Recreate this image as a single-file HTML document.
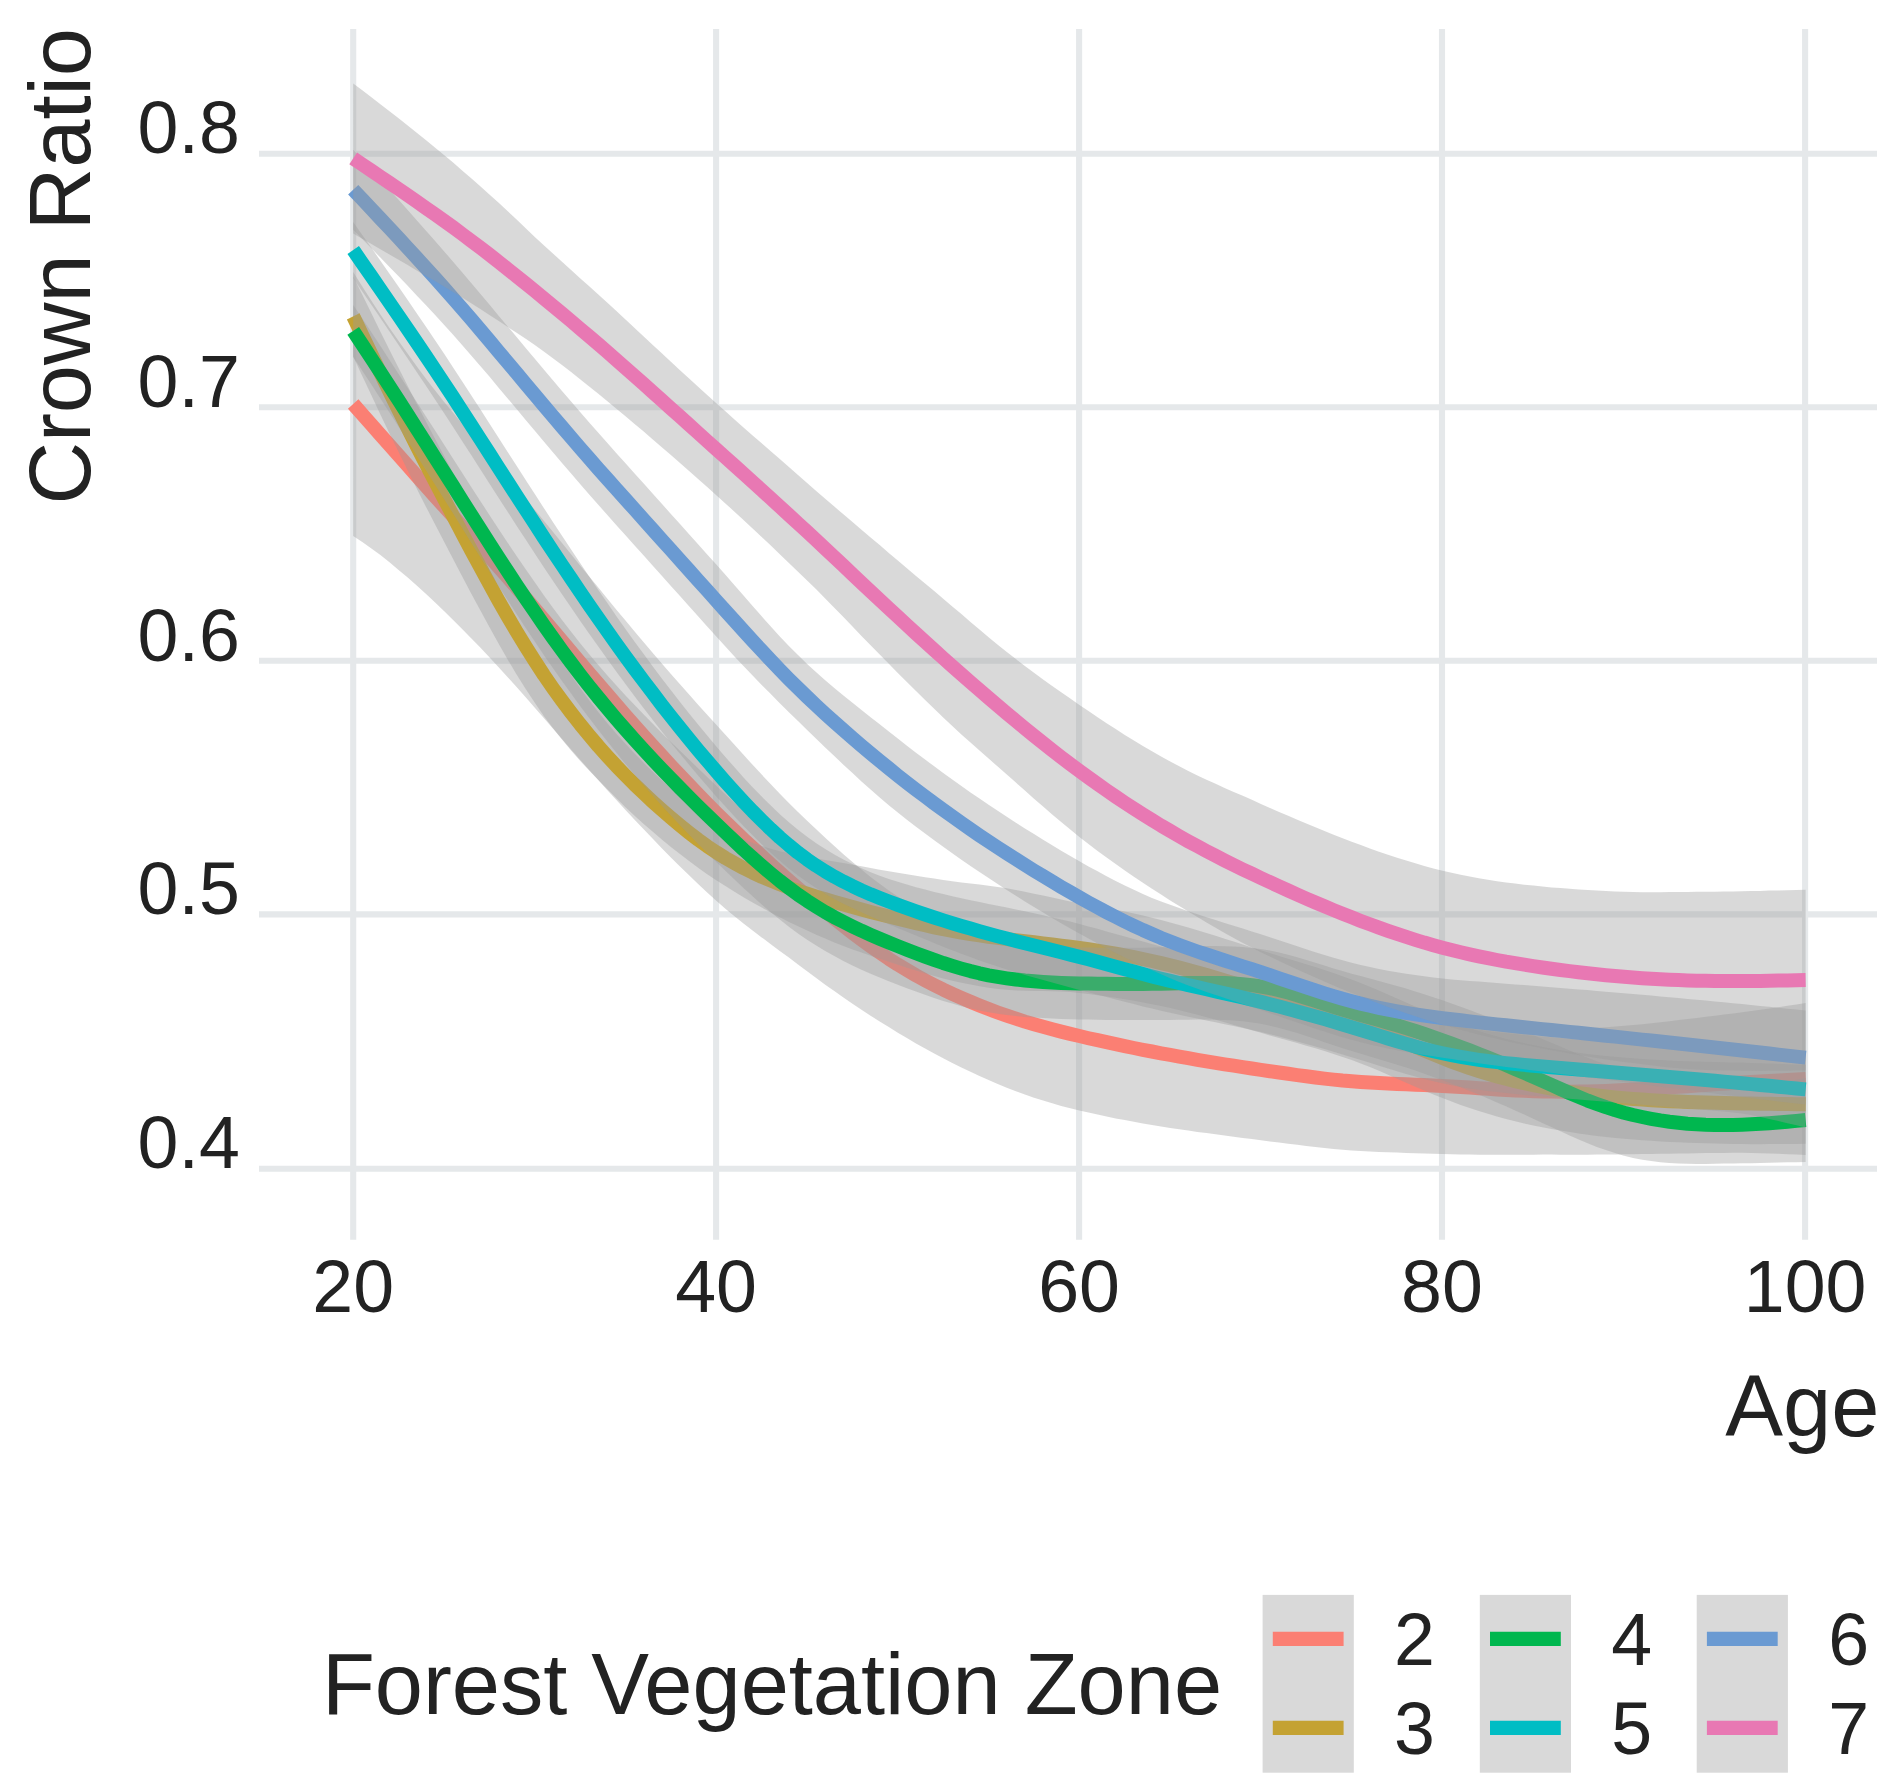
<!DOCTYPE html>
<html lang="en">
<head>
<meta charset="utf-8">
<title>Crown Ratio by Age</title>
<style>html,body{margin:0;padding:0;background:#fff;}svg{display:block;}</style>
</head>
<body>
<svg width="1897" height="1789" viewBox="0 0 1897 1789">
<rect width="1897" height="1789" fill="#ffffff"/>
<g stroke="#e5e8ea" stroke-width="6.1" fill="none">
<line x1="259.0" y1="153.7" x2="1877.0" y2="153.7"/>
<line x1="259.0" y1="407.2" x2="1877.0" y2="407.2"/>
<line x1="259.0" y1="660.8" x2="1877.0" y2="660.8"/>
<line x1="259.0" y1="914.4" x2="1877.0" y2="914.4"/>
<line x1="259.0" y1="1168.7" x2="1877.0" y2="1168.7"/>
<line x1="353.2" y1="29.1" x2="353.2" y2="1239.8"/>
<line x1="716.1" y1="29.1" x2="716.1" y2="1239.8"/>
<line x1="1079.1" y1="29.1" x2="1079.1" y2="1239.8"/>
<line x1="1442.0" y1="29.1" x2="1442.0" y2="1239.8"/>
<line x1="1805.1" y1="29.1" x2="1805.1" y2="1239.8"/>
</g>
<path d="M353.2,272.0 L362.3,286.6 L371.4,300.8 L380.4,314.6 L389.5,327.9 L398.6,341.0 L407.7,353.8 L416.7,366.3 L425.8,378.5 L434.9,390.3 L444.0,401.7 L453.1,412.8 L462.1,423.8 L471.2,434.7 L480.3,445.4 L489.4,456.0 L498.4,466.6 L507.5,477.3 L516.6,488.0 L525.7,498.8 L534.8,509.7 L543.8,520.7 L552.9,531.8 L562.0,543.0 L571.1,554.2 L580.1,565.4 L589.2,576.5 L598.3,587.6 L607.4,598.7 L616.4,609.7 L625.5,620.6 L634.6,631.5 L643.7,642.2 L652.8,652.9 L661.8,663.4 L670.9,673.9 L680.0,684.3 L689.1,694.6 L698.1,704.7 L707.2,714.8 L716.3,724.8 L725.4,734.8 L734.5,744.8 L743.5,754.8 L752.6,764.8 L761.7,774.6 L770.8,784.3 L779.8,793.8 L788.9,803.1 L798.0,812.1 L807.1,820.8 L816.2,829.3 L825.2,837.8 L834.3,846.1 L843.4,854.2 L852.5,862.1 L861.5,869.6 L870.6,876.9 L879.7,883.8 L888.8,890.4 L897.8,896.5 L906.9,902.1 L916.0,907.3 L925.1,912.2 L934.2,916.7 L943.2,920.9 L952.3,924.8 L961.4,928.4 L970.5,931.8 L979.5,935.1 L988.6,938.1 L997.7,941.0 L1006.8,943.7 L1015.9,946.2 L1024.9,948.6 L1034.0,950.9 L1043.1,953.1 L1052.2,955.2 L1061.2,957.3 L1070.3,959.4 L1079.4,961.5 L1088.5,963.7 L1097.6,965.8 L1106.6,967.9 L1115.7,970.0 L1124.8,972.1 L1133.9,974.1 L1142.9,976.1 L1152.0,978.1 L1161.1,980.1 L1170.2,982.0 L1179.3,983.9 L1188.3,985.8 L1197.4,987.6 L1206.5,989.5 L1215.6,991.2 L1224.6,993.0 L1233.7,994.7 L1242.8,996.3 L1251.9,997.9 L1260.9,999.5 L1270.0,1001.0 L1279.1,1002.5 L1288.2,1003.9 L1297.3,1005.3 L1306.3,1006.7 L1315.4,1007.9 L1324.5,1009.1 L1333.6,1010.2 L1342.6,1011.2 L1351.7,1012.1 L1360.8,1012.8 L1369.9,1013.5 L1379.0,1014.1 L1388.0,1014.7 L1397.1,1015.2 L1406.2,1015.8 L1415.3,1016.3 L1424.3,1016.8 L1433.4,1017.4 L1442.5,1018.0 L1451.6,1018.8 L1460.7,1019.7 L1469.7,1020.7 L1478.8,1021.8 L1487.9,1022.9 L1497.0,1024.0 L1506.0,1025.0 L1515.1,1026.0 L1524.2,1026.9 L1533.3,1027.6 L1542.4,1028.2 L1551.4,1028.5 L1560.5,1028.7 L1569.6,1028.6 L1578.7,1028.4 L1587.7,1028.1 L1596.8,1027.7 L1605.9,1027.2 L1615.0,1026.5 L1624.0,1025.8 L1633.1,1025.0 L1642.2,1024.2 L1651.3,1023.2 L1660.4,1022.2 L1669.4,1021.2 L1678.5,1020.1 L1687.6,1019.0 L1696.7,1017.9 L1705.7,1016.8 L1714.8,1015.7 L1723.9,1014.6 L1733.0,1013.5 L1742.1,1012.3 L1751.1,1011.1 L1760.2,1009.8 L1769.3,1008.5 L1778.4,1007.2 L1787.4,1005.8 L1796.5,1004.4 L1805.6,1003.0 L1805.6,1155.0 L1796.5,1154.6 L1787.4,1154.2 L1778.4,1153.8 L1769.3,1153.4 L1760.2,1153.2 L1751.1,1153.0 L1742.1,1152.8 L1733.0,1152.8 L1723.9,1152.9 L1714.8,1153.0 L1705.7,1153.1 L1696.7,1153.2 L1687.6,1153.4 L1678.5,1153.5 L1669.4,1153.7 L1660.4,1153.8 L1651.3,1153.9 L1642.2,1154.1 L1633.1,1154.2 L1624.0,1154.3 L1615.0,1154.4 L1605.9,1154.5 L1596.8,1154.6 L1587.7,1154.7 L1578.7,1154.7 L1569.6,1154.7 L1560.5,1154.7 L1551.4,1154.6 L1542.4,1154.6 L1533.3,1154.7 L1524.2,1154.7 L1515.1,1154.7 L1506.0,1154.7 L1497.0,1154.7 L1487.9,1154.7 L1478.8,1154.7 L1469.7,1154.6 L1460.7,1154.4 L1451.6,1154.2 L1442.5,1154.0 L1433.4,1153.7 L1424.3,1153.4 L1415.3,1153.2 L1406.2,1152.9 L1397.1,1152.6 L1388.0,1152.3 L1379.0,1151.9 L1369.9,1151.5 L1360.8,1151.0 L1351.7,1150.4 L1342.6,1149.7 L1333.6,1148.9 L1324.5,1148.0 L1315.4,1147.0 L1306.3,1146.0 L1297.3,1144.8 L1288.2,1143.7 L1279.1,1142.5 L1270.0,1141.4 L1260.9,1140.2 L1251.9,1139.1 L1242.8,1137.9 L1233.7,1136.7 L1224.6,1135.6 L1215.6,1134.3 L1206.5,1133.1 L1197.4,1131.9 L1188.3,1130.6 L1179.3,1129.2 L1170.2,1127.9 L1161.1,1126.4 L1152.0,1124.9 L1142.9,1123.4 L1133.9,1121.8 L1124.8,1120.1 L1115.7,1118.4 L1106.6,1116.6 L1097.6,1114.6 L1088.5,1112.6 L1079.4,1110.5 L1070.3,1108.3 L1061.2,1105.9 L1052.2,1103.3 L1043.1,1100.6 L1034.0,1097.7 L1024.9,1094.5 L1015.9,1091.2 L1006.8,1087.7 L997.7,1084.0 L988.6,1080.1 L979.5,1076.0 L970.5,1071.8 L961.4,1067.4 L952.3,1062.9 L943.2,1058.3 L934.2,1053.5 L925.1,1048.5 L916.0,1043.4 L906.9,1038.1 L897.8,1032.7 L888.8,1027.1 L879.7,1021.5 L870.6,1015.7 L861.5,1009.7 L852.5,1003.7 L843.4,997.5 L834.3,991.1 L825.2,984.7 L816.2,978.1 L807.1,971.3 L798.0,964.5 L788.9,957.6 L779.8,950.9 L770.8,944.2 L761.7,937.4 L752.6,930.6 L743.5,923.5 L734.5,916.2 L725.4,908.7 L716.3,900.7 L707.2,892.5 L698.1,884.0 L689.1,875.3 L680.0,866.4 L670.9,857.4 L661.8,848.2 L652.8,838.8 L643.7,829.3 L634.6,819.7 L625.5,810.0 L616.4,800.1 L607.4,790.2 L598.3,780.1 L589.2,770.0 L580.1,759.7 L571.1,749.4 L562.0,739.0 L552.9,728.5 L543.8,718.1 L534.8,707.7 L525.7,697.3 L516.6,687.1 L507.5,677.0 L498.4,667.0 L489.4,657.2 L480.3,647.6 L471.2,638.2 L462.1,629.0 L453.1,620.0 L444.0,611.1 L434.9,602.3 L425.8,593.7 L416.7,585.5 L407.7,577.5 L398.6,569.9 L389.5,562.3 L380.4,555.1 L371.4,548.4 L362.3,542.0 L353.2,536.0 Z" fill="#999999" fill-opacity="0.375" stroke="none"/>
<path d="M353.2,404.0 L362.3,414.3 L371.4,424.6 L380.4,434.9 L389.5,445.1 L398.6,455.4 L407.7,465.7 L416.7,475.9 L425.8,486.1 L434.9,496.3 L444.0,506.4 L453.1,516.4 L462.1,526.4 L471.2,536.4 L480.3,546.5 L489.4,556.6 L498.4,566.8 L507.5,577.1 L516.6,587.6 L525.7,598.1 L534.8,608.7 L543.8,619.4 L552.9,630.2 L562.0,641.0 L571.1,651.8 L580.1,662.5 L589.2,673.2 L598.3,683.9 L607.4,694.4 L616.4,704.9 L625.5,715.3 L634.6,725.6 L643.7,735.8 L652.8,745.9 L661.8,755.8 L670.9,765.7 L680.0,775.4 L689.1,784.9 L698.1,794.4 L707.2,803.6 L716.3,812.8 L725.4,821.7 L734.5,830.5 L743.5,839.2 L752.6,847.7 L761.7,856.0 L770.8,864.3 L779.8,872.4 L788.9,880.4 L798.0,888.3 L807.1,896.0 L816.2,903.7 L825.2,911.2 L834.3,918.6 L843.4,925.8 L852.5,932.9 L861.5,939.7 L870.6,946.3 L879.7,952.6 L888.8,958.8 L897.8,964.6 L906.9,970.1 L916.0,975.4 L925.1,980.3 L934.2,985.1 L943.2,989.6 L952.3,993.8 L961.4,997.9 L970.5,1001.8 L979.5,1005.5 L988.6,1009.1 L997.7,1012.5 L1006.8,1015.7 L1015.9,1018.7 L1024.9,1021.6 L1034.0,1024.3 L1043.1,1026.8 L1052.2,1029.3 L1061.2,1031.6 L1070.3,1033.9 L1079.4,1036.0 L1088.5,1038.2 L1097.6,1040.2 L1106.6,1042.2 L1115.7,1044.2 L1124.8,1046.1 L1133.9,1048.0 L1142.9,1049.8 L1152.0,1051.5 L1161.1,1053.3 L1170.2,1054.9 L1179.3,1056.6 L1188.3,1058.2 L1197.4,1059.8 L1206.5,1061.3 L1215.6,1062.8 L1224.6,1064.3 L1233.7,1065.7 L1242.8,1067.1 L1251.9,1068.5 L1260.9,1069.9 L1270.0,1071.2 L1279.1,1072.5 L1288.2,1073.8 L1297.3,1075.1 L1306.3,1076.3 L1315.4,1077.5 L1324.5,1078.6 L1333.6,1079.6 L1342.6,1080.5 L1351.7,1081.2 L1360.8,1081.9 L1369.9,1082.5 L1379.0,1083.0 L1388.0,1083.5 L1397.1,1083.9 L1406.2,1084.3 L1415.3,1084.7 L1424.3,1085.1 L1433.4,1085.5 L1442.5,1086.0 L1451.6,1086.5 L1460.7,1087.1 L1469.7,1087.6 L1478.8,1088.2 L1487.9,1088.8 L1497.0,1089.4 L1506.0,1089.9 L1515.1,1090.4 L1524.2,1090.8 L1533.3,1091.2 L1542.4,1091.4 L1551.4,1091.6 L1560.5,1091.7 L1569.6,1091.7 L1578.7,1091.6 L1587.7,1091.4 L1596.8,1091.2 L1605.9,1090.9 L1615.0,1090.5 L1624.0,1090.1 L1633.1,1089.6 L1642.2,1089.1 L1651.3,1088.6 L1660.4,1088.0 L1669.4,1087.4 L1678.5,1086.8 L1687.6,1086.2 L1696.7,1085.6 L1705.7,1085.0 L1714.8,1084.3 L1723.9,1083.7 L1733.0,1083.1 L1742.1,1082.6 L1751.1,1082.0 L1760.2,1081.5 L1769.3,1081.0 L1778.4,1080.5 L1787.4,1080.0 L1796.5,1079.5 L1805.6,1079.0" fill="none" stroke="#fb7f73" stroke-width="14.0" stroke-linejoin="round" stroke-linecap="butt"/>
<path d="M353.2,276.4 L362.3,294.8 L371.4,313.3 L380.4,331.7 L389.5,350.0 L398.6,368.1 L407.7,386.0 L416.7,403.7 L425.8,421.2 L434.9,438.5 L444.0,455.8 L453.1,473.1 L462.1,490.3 L471.2,507.4 L480.3,524.3 L489.4,541.0 L498.4,557.3 L507.5,573.3 L516.6,589.1 L525.7,604.5 L534.8,619.4 L543.8,633.9 L552.9,648.0 L562.0,661.8 L571.1,675.1 L580.1,687.9 L589.2,700.2 L598.3,712.0 L607.4,723.2 L616.4,733.8 L625.5,743.8 L634.6,753.5 L643.7,762.8 L652.8,771.7 L661.8,780.3 L670.9,788.6 L680.0,796.6 L689.1,804.2 L698.1,811.4 L707.2,818.1 L716.3,824.3 L725.4,829.8 L734.5,834.7 L743.5,839.0 L752.6,842.7 L761.7,845.9 L770.8,848.7 L779.8,851.2 L788.9,853.3 L798.0,855.2 L807.1,856.9 L816.2,858.5 L825.2,860.0 L834.3,861.5 L843.4,863.1 L852.5,864.7 L861.5,866.3 L870.6,868.0 L879.7,869.7 L888.8,871.3 L897.8,872.8 L906.9,874.3 L916.0,875.8 L925.1,877.2 L934.2,878.6 L943.2,879.9 L952.3,881.2 L961.4,882.4 L970.5,883.5 L979.5,884.6 L988.6,885.7 L997.7,886.9 L1006.8,888.3 L1015.9,889.9 L1024.9,891.7 L1034.0,893.7 L1043.1,895.6 L1052.2,897.6 L1061.2,899.6 L1070.3,901.4 L1079.4,903.0 L1088.5,904.5 L1097.6,906.2 L1106.6,907.9 L1115.7,909.7 L1124.8,911.6 L1133.9,913.6 L1142.9,915.6 L1152.0,917.8 L1161.1,920.1 L1170.2,922.5 L1179.3,924.9 L1188.3,927.5 L1197.4,930.2 L1206.5,933.0 L1215.6,935.8 L1224.6,938.7 L1233.7,941.6 L1242.8,944.5 L1251.9,947.4 L1260.9,950.3 L1270.0,953.1 L1279.1,955.9 L1288.2,958.7 L1297.3,961.4 L1306.3,964.2 L1315.4,967.1 L1324.5,970.0 L1333.6,973.0 L1342.6,976.2 L1351.7,979.5 L1360.8,983.0 L1369.9,986.7 L1379.0,990.5 L1388.0,994.5 L1397.1,998.5 L1406.2,1002.6 L1415.3,1006.6 L1424.3,1010.6 L1433.4,1014.4 L1442.5,1018.1 L1451.6,1021.6 L1460.7,1024.9 L1469.7,1028.0 L1478.8,1031.0 L1487.9,1033.7 L1497.0,1036.3 L1506.0,1038.7 L1515.1,1041.0 L1524.2,1043.1 L1533.3,1045.0 L1542.4,1046.8 L1551.4,1048.5 L1560.5,1050.0 L1569.6,1051.4 L1578.7,1052.7 L1587.7,1053.9 L1596.8,1055.0 L1605.9,1056.0 L1615.0,1056.8 L1624.0,1057.6 L1633.1,1058.3 L1642.2,1059.0 L1651.3,1059.5 L1660.4,1060.0 L1669.4,1060.5 L1678.5,1060.9 L1687.6,1061.2 L1696.7,1061.5 L1705.7,1061.8 L1714.8,1062.0 L1723.9,1062.2 L1733.0,1062.4 L1742.1,1062.6 L1751.1,1062.9 L1760.2,1063.2 L1769.3,1063.5 L1778.4,1063.8 L1787.4,1064.2 L1796.5,1064.5 L1805.6,1064.8 L1805.6,1143.8 L1796.5,1143.9 L1787.4,1144.0 L1778.4,1144.1 L1769.3,1144.1 L1760.2,1144.2 L1751.1,1144.2 L1742.1,1144.1 L1733.0,1144.0 L1723.9,1143.8 L1714.8,1143.6 L1705.7,1143.3 L1696.7,1143.0 L1687.6,1142.7 L1678.5,1142.3 L1669.4,1141.9 L1660.4,1141.4 L1651.3,1140.8 L1642.2,1140.2 L1633.1,1139.5 L1624.0,1138.7 L1615.0,1137.9 L1605.9,1136.9 L1596.8,1135.9 L1587.7,1134.7 L1578.7,1133.5 L1569.6,1132.1 L1560.5,1130.6 L1551.4,1129.0 L1542.4,1127.3 L1533.3,1125.4 L1524.2,1123.4 L1515.1,1121.2 L1506.0,1118.9 L1497.0,1116.4 L1487.9,1113.8 L1478.8,1111.0 L1469.7,1108.1 L1460.7,1105.0 L1451.6,1101.6 L1442.5,1098.1 L1433.4,1094.4 L1424.3,1090.6 L1415.3,1086.7 L1406.2,1082.7 L1397.1,1078.7 L1388.0,1074.7 L1379.0,1070.8 L1369.9,1067.1 L1360.8,1063.5 L1351.7,1060.1 L1342.6,1056.9 L1333.6,1053.9 L1324.5,1051.1 L1315.4,1048.3 L1306.3,1045.7 L1297.3,1043.1 L1288.2,1040.5 L1279.1,1038.0 L1270.0,1035.4 L1260.9,1032.8 L1251.9,1030.2 L1242.8,1027.6 L1233.7,1024.9 L1224.6,1022.3 L1215.6,1019.8 L1206.5,1017.3 L1197.4,1014.8 L1188.3,1012.5 L1179.3,1010.2 L1170.2,1008.1 L1161.1,1006.1 L1152.0,1004.2 L1142.9,1002.5 L1133.9,1000.8 L1124.8,999.2 L1115.7,997.8 L1106.6,996.4 L1097.6,995.2 L1088.5,994.0 L1079.4,992.9 L1070.3,992.1 L1061.2,991.6 L1052.2,991.2 L1043.1,991.1 L1034.0,990.9 L1024.9,990.7 L1015.9,990.4 L1006.8,989.8 L997.7,988.9 L988.6,987.7 L979.5,986.2 L970.5,984.6 L961.4,982.8 L952.3,980.7 L943.2,978.5 L934.2,976.0 L925.1,973.4 L916.0,970.6 L906.9,967.7 L897.8,964.8 L888.8,961.8 L879.7,958.7 L870.6,955.7 L861.5,952.6 L852.5,949.4 L843.4,946.0 L834.3,942.4 L825.2,938.6 L816.2,934.7 L807.1,930.6 L798.0,926.3 L788.9,921.9 L779.8,917.3 L770.8,912.5 L761.7,907.6 L752.6,902.5 L743.5,897.2 L734.5,891.8 L725.4,886.1 L716.3,880.3 L707.2,874.2 L698.1,867.8 L689.1,861.1 L680.0,854.1 L670.9,846.9 L661.8,839.5 L652.8,831.8 L643.7,823.9 L634.6,815.7 L625.5,807.2 L616.4,798.3 L607.4,789.3 L598.3,780.1 L589.2,770.6 L580.1,760.8 L571.1,750.5 L562.0,739.6 L552.9,728.1 L543.8,715.9 L534.8,702.8 L525.7,688.9 L516.6,674.4 L507.5,659.2 L498.4,643.3 L489.4,627.0 L480.3,610.3 L471.2,593.4 L462.1,576.2 L453.1,558.9 L444.0,541.5 L434.9,524.0 L425.8,506.4 L416.7,488.6 L407.7,470.5 L398.6,452.1 L389.5,433.4 L380.4,414.4 L371.4,395.2 L362.3,375.9 L353.2,356.4 Z" fill="#999999" fill-opacity="0.375" stroke="none"/>
<path d="M353.2,316.4 L362.3,335.3 L371.4,354.2 L380.4,373.0 L389.5,391.7 L398.6,410.1 L407.7,428.2 L416.7,446.1 L425.8,463.8 L434.9,481.3 L444.0,498.7 L453.1,516.0 L462.1,533.3 L471.2,550.4 L480.3,567.3 L489.4,584.0 L498.4,600.3 L507.5,616.3 L516.6,631.7 L525.7,646.7 L534.8,661.1 L543.8,674.9 L552.9,688.1 L562.0,700.7 L571.1,712.8 L580.1,724.3 L589.2,735.4 L598.3,746.1 L607.4,756.3 L616.4,766.1 L625.5,775.5 L634.6,784.6 L643.7,793.3 L652.8,801.8 L661.8,809.9 L670.9,817.8 L680.0,825.4 L689.1,832.7 L698.1,839.6 L707.2,846.2 L716.3,852.3 L725.4,858.0 L734.5,863.2 L743.5,868.1 L752.6,872.6 L761.7,876.8 L770.8,880.6 L779.8,884.2 L788.9,887.6 L798.0,890.8 L807.1,893.7 L816.2,896.6 L825.2,899.3 L834.3,902.0 L843.4,904.5 L852.5,907.0 L861.5,909.5 L870.6,911.9 L879.7,914.2 L888.8,916.5 L897.8,918.8 L906.9,921.0 L916.0,923.2 L925.1,925.3 L934.2,927.3 L943.2,929.2 L952.3,930.9 L961.4,932.6 L970.5,934.0 L979.5,935.4 L988.6,936.7 L997.7,937.9 L1006.8,939.1 L1015.9,940.2 L1024.9,941.2 L1034.0,942.3 L1043.1,943.4 L1052.2,944.4 L1061.2,945.6 L1070.3,946.7 L1079.4,948.0 L1088.5,949.3 L1097.6,950.7 L1106.6,952.2 L1115.7,953.7 L1124.8,955.4 L1133.9,957.2 L1142.9,959.1 L1152.0,961.0 L1161.1,963.1 L1170.2,965.3 L1179.3,967.6 L1188.3,970.0 L1197.4,972.5 L1206.5,975.1 L1215.6,977.8 L1224.6,980.5 L1233.7,983.3 L1242.8,986.0 L1251.9,988.8 L1260.9,991.5 L1270.0,994.3 L1279.1,996.9 L1288.2,999.6 L1297.3,1002.3 L1306.3,1004.9 L1315.4,1007.7 L1324.5,1010.5 L1333.6,1013.5 L1342.6,1016.5 L1351.7,1019.8 L1360.8,1023.2 L1369.9,1026.9 L1379.0,1030.7 L1388.0,1034.6 L1397.1,1038.6 L1406.2,1042.6 L1415.3,1046.6 L1424.3,1050.6 L1433.4,1054.4 L1442.5,1058.1 L1451.6,1061.6 L1460.7,1064.9 L1469.7,1068.1 L1478.8,1071.0 L1487.9,1073.8 L1497.0,1076.4 L1506.0,1078.8 L1515.1,1081.1 L1524.2,1083.2 L1533.3,1085.2 L1542.4,1087.0 L1551.4,1088.7 L1560.5,1090.3 L1569.6,1091.8 L1578.7,1093.1 L1587.7,1094.3 L1596.8,1095.4 L1605.9,1096.4 L1615.0,1097.4 L1624.0,1098.2 L1633.1,1098.9 L1642.2,1099.6 L1651.3,1100.2 L1660.4,1100.7 L1669.4,1101.2 L1678.5,1101.6 L1687.6,1102.0 L1696.7,1102.3 L1705.7,1102.5 L1714.8,1102.8 L1723.9,1103.0 L1733.0,1103.2 L1742.1,1103.4 L1751.1,1103.5 L1760.2,1103.7 L1769.3,1103.8 L1778.4,1104.0 L1787.4,1104.1 L1796.5,1104.2 L1805.6,1104.3" fill="none" stroke="#c4a233" stroke-width="14.0" stroke-linejoin="round" stroke-linecap="butt"/>
<path d="M353.2,304.9 L362.3,318.6 L371.4,332.3 L380.4,346.1 L389.5,360.0 L398.6,373.9 L407.7,387.9 L416.7,402.0 L425.8,416.2 L434.9,430.3 L444.0,444.5 L453.1,458.7 L462.1,472.8 L471.2,486.9 L480.3,501.0 L489.4,514.9 L498.4,528.7 L507.5,542.4 L516.6,555.9 L525.7,569.2 L534.8,582.3 L543.8,595.2 L552.9,607.8 L562.0,620.0 L571.1,631.8 L580.1,643.2 L589.2,654.3 L598.3,665.0 L607.4,675.5 L616.4,685.6 L625.5,695.5 L634.6,705.1 L643.7,714.5 L652.8,723.8 L661.8,732.9 L670.9,741.9 L680.0,750.7 L689.1,759.5 L698.1,768.3 L707.2,777.0 L716.3,785.7 L725.4,794.3 L734.5,802.8 L743.5,811.1 L752.6,819.3 L761.7,827.2 L770.8,834.8 L779.8,842.2 L788.9,849.2 L798.0,855.8 L807.1,861.9 L816.2,867.7 L825.2,873.1 L834.3,878.2 L843.4,882.9 L852.5,887.4 L861.5,891.7 L870.6,895.8 L879.7,899.8 L888.8,903.6 L897.8,907.4 L906.9,911.1 L916.0,914.8 L925.1,918.3 L934.2,921.8 L943.2,925.1 L952.3,928.2 L961.4,931.1 L970.5,933.7 L979.5,936.1 L988.6,938.2 L997.7,940.1 L1006.8,941.6 L1015.9,943.0 L1024.9,944.1 L1034.0,945.0 L1043.1,945.7 L1052.2,946.3 L1061.2,946.8 L1070.3,947.1 L1079.4,947.4 L1088.5,947.6 L1097.6,947.7 L1106.6,947.8 L1115.7,947.8 L1124.8,947.8 L1133.9,947.8 L1142.9,947.7 L1152.0,947.5 L1161.1,947.3 L1170.2,947.1 L1179.3,946.9 L1188.3,946.6 L1197.4,946.3 L1206.5,946.1 L1215.6,946.1 L1224.6,946.2 L1233.7,946.5 L1242.8,947.0 L1251.9,947.9 L1260.9,949.1 L1270.0,950.6 L1279.1,952.6 L1288.2,954.8 L1297.3,957.3 L1306.3,960.0 L1315.4,962.8 L1324.5,965.6 L1333.6,968.4 L1342.6,971.1 L1351.7,973.7 L1360.8,976.1 L1369.9,978.5 L1379.0,981.0 L1388.0,983.4 L1397.1,986.0 L1406.2,988.6 L1415.3,991.4 L1424.3,994.2 L1433.4,997.2 L1442.5,1000.3 L1451.6,1003.4 L1460.7,1006.7 L1469.7,1010.0 L1478.8,1013.4 L1487.9,1016.8 L1497.0,1020.3 L1506.0,1023.9 L1515.1,1027.6 L1524.2,1031.3 L1533.3,1035.0 L1542.4,1038.9 L1551.4,1042.8 L1560.5,1046.6 L1569.6,1050.5 L1578.7,1054.2 L1587.7,1057.8 L1596.8,1061.2 L1605.9,1064.3 L1615.0,1067.1 L1624.0,1069.7 L1633.1,1072.1 L1642.2,1074.4 L1651.3,1076.5 L1660.4,1078.6 L1669.4,1080.4 L1678.5,1082.1 L1687.6,1083.5 L1696.7,1084.7 L1705.7,1085.7 L1714.8,1086.3 L1723.9,1086.6 L1733.0,1086.5 L1742.1,1086.1 L1751.1,1085.5 L1760.2,1084.7 L1769.3,1083.6 L1778.4,1082.4 L1787.4,1081.1 L1796.5,1079.6 L1805.6,1078.0 L1805.6,1162.0 L1796.5,1162.2 L1787.4,1162.3 L1778.4,1162.5 L1769.3,1162.7 L1760.2,1162.9 L1751.1,1163.2 L1742.1,1163.3 L1733.0,1163.5 L1723.9,1163.6 L1714.8,1163.8 L1705.7,1163.9 L1696.7,1163.9 L1687.6,1163.8 L1678.5,1163.5 L1669.4,1163.0 L1660.4,1162.2 L1651.3,1161.1 L1642.2,1159.7 L1633.1,1157.9 L1624.0,1155.7 L1615.0,1153.1 L1605.9,1150.1 L1596.8,1146.9 L1587.7,1143.3 L1578.7,1139.5 L1569.6,1135.5 L1560.5,1131.3 L1551.4,1127.1 L1542.4,1122.9 L1533.3,1118.7 L1524.2,1114.5 L1515.1,1110.4 L1506.0,1106.3 L1497.0,1102.4 L1487.9,1098.5 L1478.8,1094.6 L1469.7,1090.9 L1460.7,1087.2 L1451.6,1083.7 L1442.5,1080.3 L1433.4,1077.0 L1424.3,1073.8 L1415.3,1070.6 L1406.2,1067.6 L1397.1,1064.7 L1388.0,1061.9 L1379.0,1059.2 L1369.9,1056.5 L1360.8,1053.8 L1351.7,1051.0 L1342.6,1048.2 L1333.6,1045.2 L1324.5,1042.2 L1315.4,1039.1 L1306.3,1036.0 L1297.3,1033.1 L1288.2,1030.4 L1279.1,1027.9 L1270.0,1025.7 L1260.9,1023.8 L1251.9,1022.4 L1242.8,1021.3 L1233.7,1020.6 L1224.6,1020.1 L1215.6,1019.8 L1206.5,1019.6 L1197.4,1019.6 L1188.3,1019.7 L1179.3,1019.8 L1170.2,1019.9 L1161.1,1020.0 L1152.0,1020.1 L1142.9,1020.1 L1133.9,1020.1 L1124.8,1020.0 L1115.7,1020.0 L1106.6,1019.9 L1097.6,1019.8 L1088.5,1019.6 L1079.4,1019.4 L1070.3,1019.2 L1061.2,1018.9 L1052.2,1018.6 L1043.1,1018.1 L1034.0,1017.6 L1024.9,1016.9 L1015.9,1016.1 L1006.8,1015.0 L997.7,1013.8 L988.6,1012.3 L979.5,1010.5 L970.5,1008.5 L961.4,1006.2 L952.3,1003.6 L943.2,1000.9 L934.2,997.9 L925.1,994.8 L916.0,991.6 L906.9,988.2 L897.8,984.7 L888.8,981.2 L879.7,977.5 L870.6,973.7 L861.5,969.7 L852.5,965.4 L843.4,960.9 L834.3,956.1 L825.2,951.0 L816.2,945.6 L807.1,939.7 L798.0,933.4 L788.9,926.7 L779.8,919.6 L770.8,912.2 L761.7,904.4 L752.6,896.3 L743.5,888.0 L734.5,879.4 L725.4,870.8 L716.3,861.9 L707.2,853.0 L698.1,844.0 L689.1,834.7 L680.0,825.3 L670.9,815.6 L661.8,805.7 L652.8,795.6 L643.7,785.3 L634.6,774.7 L625.5,763.9 L616.4,752.8 L607.4,741.5 L598.3,730.0 L589.2,718.1 L580.1,706.0 L571.1,693.6 L562.0,681.0 L552.9,668.1 L543.8,654.9 L534.8,641.5 L525.7,627.9 L516.6,614.1 L507.5,600.1 L498.4,585.9 L489.4,571.6 L480.3,557.1 L471.2,542.7 L462.1,528.1 L453.1,513.5 L444.0,499.0 L434.9,484.4 L425.8,469.9 L416.7,455.4 L407.7,441.0 L398.6,426.8 L389.5,412.6 L380.4,398.5 L371.4,384.6 L362.3,370.7 L353.2,356.9 Z" fill="#999999" fill-opacity="0.375" stroke="none"/>
<path d="M353.2,330.9 L362.3,344.7 L371.4,358.5 L380.4,372.3 L389.5,386.3 L398.6,400.3 L407.7,414.5 L416.7,428.7 L425.8,443.0 L434.9,457.4 L444.0,471.7 L453.1,486.1 L462.1,500.5 L471.2,514.8 L480.3,529.1 L489.4,543.2 L498.4,557.3 L507.5,571.2 L516.6,585.0 L525.7,598.6 L534.8,611.9 L543.8,625.1 L552.9,637.9 L562.0,650.5 L571.1,662.7 L580.1,674.6 L589.2,686.2 L598.3,697.5 L607.4,708.5 L616.4,719.2 L625.5,729.7 L634.6,739.9 L643.7,749.9 L652.8,759.7 L661.8,769.3 L670.9,778.7 L680.0,788.0 L689.1,797.1 L698.1,806.1 L707.2,815.0 L716.3,823.8 L725.4,832.5 L734.5,841.1 L743.5,849.6 L752.6,857.8 L761.7,865.8 L770.8,873.5 L779.8,880.9 L788.9,887.9 L798.0,894.6 L807.1,900.8 L816.2,906.6 L825.2,912.1 L834.3,917.2 L843.4,921.9 L852.5,926.4 L861.5,930.7 L870.6,934.8 L879.7,938.7 L888.8,942.4 L897.8,946.1 L906.9,949.7 L916.0,953.2 L925.1,956.6 L934.2,959.9 L943.2,963.0 L952.3,965.9 L961.4,968.6 L970.5,971.1 L979.5,973.3 L988.6,975.3 L997.7,976.9 L1006.8,978.3 L1015.9,979.5 L1024.9,980.5 L1034.0,981.3 L1043.1,981.9 L1052.2,982.5 L1061.2,982.9 L1070.3,983.2 L1079.4,983.4 L1088.5,983.6 L1097.6,983.7 L1106.6,983.8 L1115.7,983.9 L1124.8,983.9 L1133.9,983.9 L1142.9,983.9 L1152.0,983.8 L1161.1,983.7 L1170.2,983.5 L1179.3,983.3 L1188.3,983.1 L1197.4,983.0 L1206.5,982.9 L1215.6,982.9 L1224.6,983.1 L1233.7,983.5 L1242.8,984.2 L1251.9,985.1 L1260.9,986.5 L1270.0,988.1 L1279.1,990.2 L1288.2,992.6 L1297.3,995.2 L1306.3,998.0 L1315.4,1000.9 L1324.5,1003.9 L1333.6,1006.8 L1342.6,1009.6 L1351.7,1012.3 L1360.8,1015.0 L1369.9,1017.5 L1379.0,1020.1 L1388.0,1022.7 L1397.1,1025.3 L1406.2,1028.1 L1415.3,1031.0 L1424.3,1034.0 L1433.4,1037.1 L1442.5,1040.3 L1451.6,1043.6 L1460.7,1047.0 L1469.7,1050.4 L1478.8,1054.0 L1487.9,1057.6 L1497.0,1061.3 L1506.0,1065.1 L1515.1,1069.0 L1524.2,1072.9 L1533.3,1076.9 L1542.4,1080.9 L1551.4,1084.9 L1560.5,1089.0 L1569.6,1093.0 L1578.7,1096.9 L1587.7,1100.6 L1596.8,1104.0 L1605.9,1107.2 L1615.0,1110.1 L1624.0,1112.7 L1633.1,1115.0 L1642.2,1117.0 L1651.3,1118.8 L1660.4,1120.4 L1669.4,1121.7 L1678.5,1122.8 L1687.6,1123.7 L1696.7,1124.3 L1705.7,1124.8 L1714.8,1125.0 L1723.9,1125.1 L1733.0,1125.0 L1742.1,1124.7 L1751.1,1124.3 L1760.2,1123.8 L1769.3,1123.2 L1778.4,1122.5 L1787.4,1121.7 L1796.5,1120.9 L1805.6,1120.0" fill="none" stroke="#00b74f" stroke-width="14.0" stroke-linejoin="round" stroke-linecap="butt"/>
<path d="M353.2,222.1 L362.3,235.0 L371.4,247.8 L380.4,260.7 L389.5,273.7 L398.6,286.8 L407.7,299.9 L416.7,313.2 L425.8,326.5 L434.9,340.0 L444.0,353.6 L453.1,367.4 L462.1,381.2 L471.2,395.2 L480.3,409.3 L489.4,423.4 L498.4,437.5 L507.5,451.7 L516.6,465.8 L525.7,479.9 L534.8,493.9 L543.8,507.9 L552.9,521.9 L562.0,535.7 L571.1,549.4 L580.1,563.1 L589.2,576.6 L598.3,589.9 L607.4,603.1 L616.4,616.2 L625.5,629.0 L634.6,641.7 L643.7,654.1 L652.8,666.4 L661.8,678.5 L670.9,690.3 L680.0,702.0 L689.1,713.4 L698.1,724.6 L707.2,735.6 L716.3,746.4 L725.4,757.0 L734.5,767.3 L743.5,777.4 L752.6,787.2 L761.7,796.6 L770.8,805.6 L779.8,814.2 L788.9,822.2 L798.0,829.8 L807.1,836.8 L816.2,843.2 L825.2,849.1 L834.3,854.5 L843.4,859.5 L852.5,864.1 L861.5,868.3 L870.6,872.2 L879.7,875.7 L888.8,878.9 L897.8,881.8 L906.9,884.6 L916.0,887.2 L925.1,889.6 L934.2,891.9 L943.2,894.1 L952.3,896.2 L961.4,898.2 L970.5,900.2 L979.5,902.0 L988.6,903.9 L997.7,905.7 L1006.8,907.5 L1015.9,909.4 L1024.9,911.3 L1034.0,913.3 L1043.1,915.3 L1052.2,917.4 L1061.2,919.5 L1070.3,921.6 L1079.4,923.9 L1088.5,926.4 L1097.6,928.8 L1106.6,931.4 L1115.7,933.9 L1124.8,936.5 L1133.9,939.1 L1142.9,941.6 L1152.0,944.1 L1161.1,946.6 L1170.2,949.0 L1179.3,951.3 L1188.3,953.6 L1197.4,955.9 L1206.5,958.1 L1215.6,960.3 L1224.6,962.6 L1233.7,964.8 L1242.8,967.0 L1251.9,969.3 L1260.9,971.6 L1270.0,974.0 L1279.1,976.4 L1288.2,978.9 L1297.3,981.4 L1306.3,983.9 L1315.4,986.5 L1324.5,989.1 L1333.6,991.8 L1342.6,994.5 L1351.7,997.2 L1360.8,1000.0 L1369.9,1002.8 L1379.0,1005.7 L1388.0,1008.5 L1397.1,1011.2 L1406.2,1013.9 L1415.3,1016.5 L1424.3,1018.9 L1433.4,1021.2 L1442.5,1023.3 L1451.6,1025.2 L1460.7,1026.9 L1469.7,1028.4 L1478.8,1029.8 L1487.9,1031.0 L1497.0,1032.1 L1506.0,1033.1 L1515.1,1034.0 L1524.2,1034.9 L1533.3,1035.7 L1542.4,1036.5 L1551.4,1037.3 L1560.5,1038.0 L1569.6,1038.8 L1578.7,1039.5 L1587.7,1040.3 L1596.8,1041.0 L1605.9,1041.8 L1615.0,1042.5 L1624.0,1043.2 L1633.1,1043.9 L1642.2,1044.7 L1651.3,1045.4 L1660.4,1046.2 L1669.4,1046.9 L1678.5,1047.7 L1687.6,1048.4 L1696.7,1049.2 L1705.7,1050.0 L1714.8,1050.8 L1723.9,1051.6 L1733.0,1052.4 L1742.1,1052.9 L1751.1,1053.1 L1760.2,1053.0 L1769.3,1052.8 L1778.4,1052.4 L1787.4,1052.0 L1796.5,1051.7 L1805.6,1051.4 L1805.6,1127.4 L1796.5,1125.3 L1787.4,1123.2 L1778.4,1121.0 L1769.3,1118.9 L1760.2,1116.9 L1751.1,1115.1 L1742.1,1113.6 L1733.0,1112.4 L1723.9,1111.6 L1714.8,1110.8 L1705.7,1110.0 L1696.7,1109.2 L1687.6,1108.4 L1678.5,1107.7 L1669.4,1106.9 L1660.4,1106.2 L1651.3,1105.4 L1642.2,1104.7 L1633.1,1103.9 L1624.0,1103.2 L1615.0,1102.5 L1605.9,1101.8 L1596.8,1101.0 L1587.7,1100.3 L1578.7,1099.5 L1569.6,1098.8 L1560.5,1098.0 L1551.4,1097.3 L1542.4,1096.5 L1533.3,1095.7 L1524.2,1094.9 L1515.1,1094.0 L1506.0,1093.1 L1497.0,1092.1 L1487.9,1091.0 L1478.8,1089.8 L1469.7,1088.4 L1460.7,1086.9 L1451.6,1085.2 L1442.5,1083.3 L1433.4,1081.2 L1424.3,1078.9 L1415.3,1076.5 L1406.2,1073.9 L1397.1,1071.2 L1388.0,1068.5 L1379.0,1065.7 L1369.9,1062.8 L1360.8,1060.0 L1351.7,1057.2 L1342.6,1054.5 L1333.6,1051.8 L1324.5,1049.1 L1315.4,1046.5 L1306.3,1043.9 L1297.3,1041.4 L1288.2,1038.9 L1279.1,1036.6 L1270.0,1034.3 L1260.9,1032.1 L1251.9,1030.1 L1242.8,1028.0 L1233.7,1026.1 L1224.6,1024.2 L1215.6,1022.3 L1206.5,1020.4 L1197.4,1018.6 L1188.3,1016.7 L1179.3,1014.8 L1170.2,1012.8 L1161.1,1010.7 L1152.0,1008.6 L1142.9,1006.4 L1133.9,1004.1 L1124.8,1001.8 L1115.7,999.5 L1106.6,997.1 L1097.6,994.7 L1088.5,992.3 L1079.4,989.9 L1070.3,987.5 L1061.2,985.1 L1052.2,982.6 L1043.1,980.1 L1034.0,977.6 L1024.9,975.0 L1015.9,972.3 L1006.8,969.6 L997.7,966.6 L988.6,963.6 L979.5,960.4 L970.5,957.1 L961.4,953.7 L952.3,950.2 L943.2,946.7 L934.2,943.0 L925.1,939.3 L916.0,935.6 L906.9,931.8 L897.8,928.0 L888.8,924.2 L879.7,920.3 L870.6,916.4 L861.5,912.3 L852.5,908.1 L843.4,903.7 L834.3,898.9 L825.2,893.7 L816.2,888.1 L807.1,882.1 L798.0,875.5 L788.9,868.4 L779.8,860.8 L770.8,852.7 L761.7,844.2 L752.6,835.3 L743.5,826.1 L734.5,816.5 L725.4,806.6 L716.3,796.4 L707.2,786.0 L698.1,775.5 L689.1,764.7 L680.0,753.8 L670.9,742.7 L661.8,731.4 L652.8,719.9 L643.7,708.2 L634.6,696.2 L625.5,684.1 L616.4,671.8 L607.4,659.3 L598.3,646.6 L589.2,633.8 L580.1,620.8 L571.1,607.6 L562.0,594.3 L552.9,580.8 L543.8,567.2 L534.8,553.5 L525.7,539.6 L516.6,525.7 L507.5,511.6 L498.4,497.5 L489.4,483.4 L480.3,469.2 L471.2,455.1 L462.1,441.0 L453.1,427.0 L444.0,413.0 L434.9,399.2 L425.8,385.5 L416.7,371.9 L407.7,358.4 L398.6,344.9 L389.5,331.5 L380.4,318.1 L371.4,304.8 L362.3,291.5 L353.2,278.1 Z" fill="#999999" fill-opacity="0.375" stroke="none"/>
<path d="M353.2,250.1 L362.3,263.2 L371.4,276.3 L380.4,289.4 L389.5,302.6 L398.6,315.9 L407.7,329.2 L416.7,342.5 L425.8,356.0 L434.9,369.6 L444.0,383.3 L453.1,397.2 L462.1,411.1 L471.2,425.1 L480.3,439.2 L489.4,453.4 L498.4,467.5 L507.5,481.6 L516.6,495.7 L525.7,509.8 L534.8,523.7 L543.8,537.6 L552.9,551.3 L562.0,565.0 L571.1,578.5 L580.1,591.9 L589.2,605.2 L598.3,618.3 L607.4,631.2 L616.4,644.0 L625.5,656.6 L634.6,669.0 L643.7,681.1 L652.8,693.1 L661.8,704.9 L670.9,716.5 L680.0,727.9 L689.1,739.1 L698.1,750.1 L707.2,760.8 L716.3,771.4 L725.4,781.8 L734.5,791.9 L743.5,801.7 L752.6,811.3 L761.7,820.4 L770.8,829.2 L779.8,837.5 L788.9,845.3 L798.0,852.7 L807.1,859.4 L816.2,865.7 L825.2,871.4 L834.3,876.7 L843.4,881.6 L852.5,886.1 L861.5,890.3 L870.6,894.3 L879.7,898.0 L888.8,901.5 L897.8,904.9 L906.9,908.2 L916.0,911.4 L925.1,914.5 L934.2,917.5 L943.2,920.4 L952.3,923.2 L961.4,926.0 L970.5,928.6 L979.5,931.2 L988.6,933.7 L997.7,936.2 L1006.8,938.5 L1015.9,940.9 L1024.9,943.2 L1034.0,945.5 L1043.1,947.7 L1052.2,950.0 L1061.2,952.3 L1070.3,954.6 L1079.4,956.9 L1088.5,959.3 L1097.6,961.8 L1106.6,964.2 L1115.7,966.7 L1124.8,969.2 L1133.9,971.6 L1142.9,974.0 L1152.0,976.4 L1161.1,978.7 L1170.2,980.9 L1179.3,983.0 L1188.3,985.2 L1197.4,987.2 L1206.5,989.3 L1215.6,991.3 L1224.6,993.4 L1233.7,995.4 L1242.8,997.5 L1251.9,999.7 L1260.9,1001.9 L1270.0,1004.2 L1279.1,1006.5 L1288.2,1008.9 L1297.3,1011.4 L1306.3,1013.9 L1315.4,1016.5 L1324.5,1019.1 L1333.6,1021.8 L1342.6,1024.5 L1351.7,1027.2 L1360.8,1030.0 L1369.9,1032.8 L1379.0,1035.7 L1388.0,1038.5 L1397.1,1041.2 L1406.2,1043.9 L1415.3,1046.5 L1424.3,1048.9 L1433.4,1051.2 L1442.5,1053.3 L1451.6,1055.2 L1460.7,1056.9 L1469.7,1058.4 L1478.8,1059.8 L1487.9,1061.0 L1497.0,1062.1 L1506.0,1063.1 L1515.1,1064.0 L1524.2,1064.9 L1533.3,1065.7 L1542.4,1066.5 L1551.4,1067.3 L1560.5,1068.0 L1569.6,1068.8 L1578.7,1069.5 L1587.7,1070.3 L1596.8,1071.0 L1605.9,1071.8 L1615.0,1072.5 L1624.0,1073.2 L1633.1,1073.9 L1642.2,1074.7 L1651.3,1075.4 L1660.4,1076.2 L1669.4,1076.9 L1678.5,1077.7 L1687.6,1078.4 L1696.7,1079.2 L1705.7,1080.0 L1714.8,1080.8 L1723.9,1081.6 L1733.0,1082.4 L1742.1,1083.2 L1751.1,1084.1 L1760.2,1085.0 L1769.3,1085.8 L1778.4,1086.7 L1787.4,1087.6 L1796.5,1088.5 L1805.6,1089.4" fill="none" stroke="#00bdc4" stroke-width="14.0" stroke-linejoin="round" stroke-linecap="butt"/>
<path d="M353.2,149.7 L362.3,159.7 L371.4,169.7 L380.4,179.7 L389.5,189.7 L398.6,199.8 L407.7,210.0 L416.7,220.2 L425.8,230.4 L434.9,240.7 L444.0,251.2 L453.1,261.7 L462.1,272.3 L471.2,283.0 L480.3,293.7 L489.4,304.5 L498.4,315.4 L507.5,326.2 L516.6,337.0 L525.7,347.9 L534.8,358.7 L543.8,369.5 L552.9,380.2 L562.0,390.9 L571.1,401.5 L580.1,412.0 L589.2,422.4 L598.3,432.8 L607.4,443.0 L616.4,453.2 L625.5,463.3 L634.6,473.4 L643.7,483.6 L652.8,493.7 L661.8,503.8 L670.9,513.9 L680.0,524.1 L689.1,534.2 L698.1,544.3 L707.2,554.4 L716.3,564.6 L725.4,574.8 L734.5,585.2 L743.5,595.6 L752.6,606.0 L761.7,616.3 L770.8,626.5 L779.8,636.4 L788.9,645.9 L798.0,655.1 L807.1,663.9 L816.2,672.2 L825.2,680.2 L834.3,687.9 L843.4,695.5 L852.5,702.8 L861.5,710.1 L870.6,717.2 L879.7,724.3 L888.8,731.4 L897.8,738.6 L906.9,745.7 L916.0,752.7 L925.1,759.6 L934.2,766.3 L943.2,773.0 L952.3,779.6 L961.4,786.0 L970.5,792.4 L979.5,798.6 L988.6,804.8 L997.7,810.8 L1006.8,816.8 L1015.9,822.7 L1024.9,828.4 L1034.0,834.1 L1043.1,839.8 L1052.2,845.3 L1061.2,850.7 L1070.3,856.0 L1079.4,861.3 L1088.5,866.4 L1097.6,871.3 L1106.6,876.2 L1115.7,880.9 L1124.8,885.4 L1133.9,889.8 L1142.9,894.0 L1152.0,897.9 L1161.1,901.4 L1170.2,904.8 L1179.3,908.0 L1188.3,911.2 L1197.4,914.2 L1206.5,917.2 L1215.6,920.1 L1224.6,923.0 L1233.7,925.8 L1242.8,928.6 L1251.9,931.4 L1260.9,934.3 L1270.0,937.3 L1279.1,940.3 L1288.2,943.3 L1297.3,946.3 L1306.3,949.3 L1315.4,952.2 L1324.5,955.0 L1333.6,957.7 L1342.6,960.3 L1351.7,962.8 L1360.8,965.0 L1369.9,967.1 L1379.0,969.0 L1388.0,970.8 L1397.1,972.3 L1406.2,973.8 L1415.3,975.1 L1424.3,976.3 L1433.4,977.4 L1442.5,978.5 L1451.6,979.4 L1460.7,980.2 L1469.7,980.9 L1478.8,981.6 L1487.9,982.3 L1497.0,983.0 L1506.0,983.7 L1515.1,984.4 L1524.2,985.1 L1533.3,985.8 L1542.4,986.5 L1551.4,987.2 L1560.5,987.9 L1569.6,988.7 L1578.7,989.4 L1587.7,990.1 L1596.8,990.9 L1605.9,991.7 L1615.0,992.4 L1624.0,993.2 L1633.1,994.0 L1642.2,994.8 L1651.3,995.6 L1660.4,996.4 L1669.4,997.2 L1678.5,998.0 L1687.6,998.9 L1696.7,999.7 L1705.7,1000.6 L1714.8,1001.4 L1723.9,1002.3 L1733.0,1003.2 L1742.1,1004.1 L1751.1,1005.0 L1760.2,1005.9 L1769.3,1006.8 L1778.4,1007.8 L1787.4,1008.7 L1796.5,1009.6 L1805.6,1010.6 L1805.6,1104.6 L1796.5,1103.5 L1787.4,1102.5 L1778.4,1101.4 L1769.3,1100.3 L1760.2,1099.2 L1751.1,1098.1 L1742.1,1096.9 L1733.0,1095.8 L1723.9,1094.7 L1714.8,1093.6 L1705.7,1092.4 L1696.7,1091.3 L1687.6,1090.1 L1678.5,1089.0 L1669.4,1087.8 L1660.4,1086.7 L1651.3,1085.5 L1642.2,1084.3 L1633.1,1083.2 L1624.0,1082.0 L1615.0,1080.8 L1605.9,1079.7 L1596.8,1078.5 L1587.7,1077.4 L1578.7,1076.2 L1569.6,1075.0 L1560.5,1073.9 L1551.4,1072.7 L1542.4,1071.6 L1533.3,1070.4 L1524.2,1069.3 L1515.1,1068.1 L1506.0,1067.0 L1497.0,1065.8 L1487.9,1064.5 L1478.8,1063.2 L1469.7,1061.8 L1460.7,1060.4 L1451.6,1059.1 L1442.5,1057.7 L1433.4,1056.3 L1424.3,1054.9 L1415.3,1053.5 L1406.2,1051.9 L1397.1,1050.3 L1388.0,1048.5 L1379.0,1046.6 L1369.9,1044.5 L1360.8,1042.2 L1351.7,1039.8 L1342.6,1037.2 L1333.6,1034.5 L1324.5,1031.6 L1315.4,1028.7 L1306.3,1025.6 L1297.3,1022.5 L1288.2,1019.4 L1279.1,1016.3 L1270.0,1013.2 L1260.9,1010.1 L1251.9,1007.0 L1242.8,1004.0 L1233.7,1001.0 L1224.6,998.0 L1215.6,995.0 L1206.5,991.9 L1197.4,988.7 L1188.3,985.4 L1179.3,981.9 L1170.2,978.2 L1161.1,974.3 L1152.0,970.2 L1142.9,966.1 L1133.9,961.8 L1124.8,957.5 L1115.7,952.9 L1106.6,948.3 L1097.6,943.5 L1088.5,938.6 L1079.4,933.6 L1070.3,928.4 L1061.2,923.2 L1052.2,917.9 L1043.1,912.5 L1034.0,907.0 L1024.9,901.4 L1015.9,895.7 L1006.8,889.9 L997.7,884.1 L988.6,878.1 L979.5,872.1 L970.5,865.9 L961.4,859.7 L952.3,853.3 L943.2,846.8 L934.2,840.2 L925.1,833.5 L916.0,826.7 L906.9,819.7 L897.8,812.5 L888.8,805.2 L879.7,797.5 L870.6,789.6 L861.5,781.4 L852.5,773.1 L843.4,764.7 L834.3,756.1 L825.2,747.5 L816.2,738.8 L807.1,730.0 L798.0,721.1 L788.9,712.2 L779.8,703.2 L770.8,694.1 L761.7,684.9 L752.6,675.6 L743.5,666.1 L734.5,656.4 L725.4,646.6 L716.3,636.6 L707.2,626.4 L698.1,616.3 L689.1,606.2 L680.0,596.1 L670.9,585.9 L661.8,575.8 L652.8,565.7 L643.7,555.6 L634.6,545.4 L625.5,535.3 L616.4,525.2 L607.4,515.0 L598.3,504.8 L589.2,494.4 L580.1,484.0 L571.1,473.5 L562.0,462.9 L552.9,452.2 L543.8,441.5 L534.8,430.7 L525.7,419.9 L516.6,409.0 L507.5,398.2 L498.4,387.4 L489.4,376.6 L480.3,366.0 L471.2,355.4 L462.1,345.1 L453.1,334.8 L444.0,324.8 L434.9,314.8 L425.8,305.1 L416.7,295.4 L407.7,285.8 L398.6,276.3 L389.5,266.9 L380.4,257.6 L371.4,248.3 L362.3,239.0 L353.2,229.7 Z" fill="#999999" fill-opacity="0.375" stroke="none"/>
<path d="M353.2,189.7 L362.3,199.3 L371.4,209.0 L380.4,218.6 L389.5,228.3 L398.6,238.1 L407.7,247.9 L416.7,257.8 L425.8,267.7 L434.9,277.8 L444.0,288.0 L453.1,298.3 L462.1,308.7 L471.2,319.2 L480.3,329.9 L489.4,340.6 L498.4,351.4 L507.5,362.2 L516.6,373.0 L525.7,383.9 L534.8,394.7 L543.8,405.5 L552.9,416.2 L562.0,426.9 L571.1,437.5 L580.1,448.0 L589.2,458.4 L598.3,468.8 L607.4,479.0 L616.4,489.2 L625.5,499.3 L634.6,509.4 L643.7,519.6 L652.8,529.7 L661.8,539.8 L670.9,549.9 L680.0,560.1 L689.1,570.2 L698.1,580.3 L707.2,590.4 L716.3,600.6 L725.4,610.7 L734.5,620.8 L743.5,630.8 L752.6,640.8 L761.7,650.6 L770.8,660.3 L779.8,669.8 L788.9,679.1 L798.0,688.1 L807.1,696.9 L816.2,705.5 L825.2,713.8 L834.3,722.0 L843.4,730.1 L852.5,738.0 L861.5,745.8 L870.6,753.4 L879.7,760.9 L888.8,768.3 L897.8,775.6 L906.9,782.7 L916.0,789.7 L925.1,796.5 L934.2,803.3 L943.2,809.9 L952.3,816.4 L961.4,822.9 L970.5,829.2 L979.5,835.4 L988.6,841.5 L997.7,847.5 L1006.8,853.4 L1015.9,859.2 L1024.9,864.9 L1034.0,870.6 L1043.1,876.1 L1052.2,881.6 L1061.2,887.0 L1070.3,892.2 L1079.4,897.4 L1088.5,902.5 L1097.6,907.4 L1106.6,912.2 L1115.7,916.9 L1124.8,921.5 L1133.9,925.8 L1142.9,930.0 L1152.0,934.0 L1161.1,937.9 L1170.2,941.5 L1179.3,945.0 L1188.3,948.3 L1197.4,951.5 L1206.5,954.5 L1215.6,957.5 L1224.6,960.5 L1233.7,963.4 L1242.8,966.3 L1251.9,969.2 L1260.9,972.2 L1270.0,975.2 L1279.1,978.3 L1288.2,981.4 L1297.3,984.4 L1306.3,987.4 L1315.4,990.4 L1324.5,993.3 L1333.6,996.1 L1342.6,998.8 L1351.7,1001.3 L1360.8,1003.6 L1369.9,1005.8 L1379.0,1007.8 L1388.0,1009.6 L1397.1,1011.3 L1406.2,1012.8 L1415.3,1014.3 L1424.3,1015.6 L1433.4,1016.9 L1442.5,1018.1 L1451.6,1019.2 L1460.7,1020.3 L1469.7,1021.4 L1478.8,1022.4 L1487.9,1023.4 L1497.0,1024.4 L1506.0,1025.3 L1515.1,1026.3 L1524.2,1027.2 L1533.3,1028.1 L1542.4,1029.1 L1551.4,1030.0 L1560.5,1030.9 L1569.6,1031.9 L1578.7,1032.8 L1587.7,1033.8 L1596.8,1034.7 L1605.9,1035.7 L1615.0,1036.6 L1624.0,1037.6 L1633.1,1038.6 L1642.2,1039.6 L1651.3,1040.5 L1660.4,1041.5 L1669.4,1042.5 L1678.5,1043.5 L1687.6,1044.5 L1696.7,1045.5 L1705.7,1046.5 L1714.8,1047.5 L1723.9,1048.5 L1733.0,1049.5 L1742.1,1050.5 L1751.1,1051.5 L1760.2,1052.5 L1769.3,1053.5 L1778.4,1054.6 L1787.4,1055.6 L1796.5,1056.6 L1805.6,1057.6" fill="none" stroke="#6a9ad2" stroke-width="14.0" stroke-linejoin="round" stroke-linecap="butt"/>
<path d="M353.2,83.4 L362.3,90.3 L371.4,97.2 L380.4,104.2 L389.5,111.2 L398.6,118.3 L407.7,125.4 L416.7,132.7 L425.8,140.0 L434.9,147.4 L444.0,155.0 L453.1,162.6 L462.1,170.4 L471.2,178.2 L480.3,186.2 L489.4,194.4 L498.4,202.6 L507.5,211.0 L516.6,219.6 L525.7,228.3 L534.8,236.9 L543.8,245.2 L552.9,253.5 L562.0,261.8 L571.1,270.0 L580.1,278.2 L589.2,286.3 L598.3,294.5 L607.4,302.8 L616.4,311.1 L625.5,319.5 L634.6,327.9 L643.7,336.4 L652.8,344.9 L661.8,353.3 L670.9,361.8 L680.0,370.2 L689.1,378.5 L698.1,386.8 L707.2,395.0 L716.3,403.2 L725.4,411.3 L734.5,419.4 L743.5,427.4 L752.6,435.4 L761.7,443.3 L770.8,451.2 L779.8,459.1 L788.9,467.0 L798.0,475.0 L807.1,482.9 L816.2,490.9 L825.2,498.8 L834.3,506.6 L843.4,514.3 L852.5,522.0 L861.5,529.7 L870.6,537.4 L879.7,545.1 L888.8,552.9 L897.8,560.6 L906.9,568.3 L916.0,575.9 L925.1,583.5 L934.2,591.1 L943.2,598.8 L952.3,606.4 L961.4,614.1 L970.5,621.9 L979.5,629.6 L988.6,637.2 L997.7,644.7 L1006.8,652.0 L1015.9,659.1 L1024.9,666.0 L1034.0,672.8 L1043.1,679.4 L1052.2,685.9 L1061.2,692.3 L1070.3,698.6 L1079.4,704.9 L1088.5,711.1 L1097.6,717.2 L1106.6,723.2 L1115.7,729.1 L1124.8,734.9 L1133.9,740.5 L1142.9,746.0 L1152.0,751.3 L1161.1,756.5 L1170.2,761.5 L1179.3,766.3 L1188.3,771.0 L1197.4,775.4 L1206.5,779.7 L1215.6,783.8 L1224.6,787.9 L1233.7,791.9 L1242.8,795.8 L1251.9,799.8 L1260.9,803.9 L1270.0,807.9 L1279.1,811.9 L1288.2,815.8 L1297.3,819.7 L1306.3,823.5 L1315.4,827.3 L1324.5,831.0 L1333.6,834.7 L1342.6,838.2 L1351.7,841.7 L1360.8,845.1 L1369.9,848.4 L1379.0,851.7 L1388.0,854.8 L1397.1,857.7 L1406.2,860.6 L1415.3,863.3 L1424.3,865.9 L1433.4,868.4 L1442.5,870.7 L1451.6,872.8 L1460.7,874.8 L1469.7,876.6 L1478.8,878.2 L1487.9,879.8 L1497.0,881.2 L1506.0,882.4 L1515.1,883.6 L1524.2,884.7 L1533.3,885.6 L1542.4,886.5 L1551.4,887.4 L1560.5,888.1 L1569.6,888.8 L1578.7,889.5 L1587.7,890.0 L1596.8,890.6 L1605.9,891.0 L1615.0,891.4 L1624.0,891.8 L1633.1,892.0 L1642.2,892.2 L1651.3,892.2 L1660.4,892.2 L1669.4,892.1 L1678.5,892.0 L1687.6,891.9 L1696.7,891.8 L1705.7,891.8 L1714.8,891.7 L1723.9,891.6 L1733.0,891.5 L1742.1,891.3 L1751.1,891.1 L1760.2,890.9 L1769.3,890.6 L1778.4,890.4 L1787.4,890.2 L1796.5,889.9 L1805.6,889.7 L1805.6,1070.3 L1796.5,1070.5 L1787.4,1070.7 L1778.4,1070.8 L1769.3,1070.8 L1760.2,1070.9 L1751.1,1070.8 L1742.1,1070.8 L1733.0,1070.6 L1723.9,1070.5 L1714.8,1070.2 L1705.7,1069.9 L1696.7,1069.5 L1687.6,1068.9 L1678.5,1068.2 L1669.4,1067.4 L1660.4,1066.4 L1651.3,1065.3 L1642.2,1064.2 L1633.1,1063.1 L1624.0,1061.9 L1615.0,1060.7 L1605.9,1059.4 L1596.8,1058.0 L1587.7,1056.6 L1578.7,1055.0 L1569.6,1053.5 L1560.5,1051.8 L1551.4,1050.2 L1542.4,1048.4 L1533.3,1046.6 L1524.2,1044.8 L1515.1,1042.9 L1506.0,1040.9 L1497.0,1038.8 L1487.9,1036.7 L1478.8,1034.5 L1469.7,1032.2 L1460.7,1029.8 L1451.6,1027.3 L1442.5,1024.7 L1433.4,1022.0 L1424.3,1019.2 L1415.3,1016.3 L1406.2,1013.2 L1397.1,1010.1 L1388.0,1006.9 L1379.0,1003.5 L1369.9,1000.1 L1360.8,996.6 L1351.7,993.0 L1342.6,989.3 L1333.6,985.5 L1324.5,981.6 L1315.4,977.6 L1306.3,973.6 L1297.3,969.5 L1288.2,965.3 L1279.1,961.0 L1270.0,956.6 L1260.9,952.2 L1251.9,947.6 L1242.8,942.9 L1233.7,938.0 L1224.6,932.9 L1215.6,927.7 L1206.5,922.4 L1197.4,917.0 L1188.3,911.5 L1179.3,906.0 L1170.2,900.4 L1161.1,894.6 L1152.0,888.8 L1142.9,882.8 L1133.9,876.7 L1124.8,870.5 L1115.7,864.1 L1106.6,857.6 L1097.6,850.9 L1088.5,844.0 L1079.4,836.9 L1070.3,829.6 L1061.2,822.1 L1052.2,814.4 L1043.1,806.6 L1034.0,798.7 L1024.9,790.6 L1015.9,782.6 L1006.8,774.5 L997.7,766.5 L988.6,758.6 L979.5,750.6 L970.5,742.5 L961.4,734.4 L952.3,726.0 L943.2,717.5 L934.2,708.8 L925.1,700.0 L916.0,691.0 L906.9,682.0 L897.8,672.9 L888.8,663.8 L879.7,654.6 L870.6,645.3 L861.5,635.9 L852.5,626.5 L843.4,617.0 L834.3,607.7 L825.2,598.4 L816.2,589.3 L807.1,580.5 L798.0,571.7 L788.9,562.9 L779.8,554.2 L770.8,545.6 L761.7,537.0 L752.6,528.5 L743.5,520.1 L734.5,511.7 L725.4,503.4 L716.3,495.2 L707.2,487.1 L698.1,479.0 L689.1,471.0 L680.0,463.1 L670.9,455.1 L661.8,447.3 L652.8,439.4 L643.7,431.6 L634.6,423.9 L625.5,416.3 L616.4,408.7 L607.4,401.2 L598.3,393.8 L589.2,386.4 L580.1,379.2 L571.1,372.1 L562.0,365.1 L552.9,358.3 L543.8,351.5 L534.8,345.0 L525.7,338.7 L516.6,332.8 L507.5,326.8 L498.4,320.8 L489.4,314.9 L480.3,309.0 L471.2,303.3 L462.1,297.6 L453.1,292.0 L444.0,286.5 L434.9,281.1 L425.8,275.7 L416.7,270.4 L407.7,265.1 L398.6,259.8 L389.5,254.6 L380.4,249.3 L371.4,244.0 L362.3,238.8 L353.2,233.4 Z" fill="#999999" fill-opacity="0.375" stroke="none"/>
<path d="M353.2,158.4 L362.3,164.5 L371.4,170.6 L380.4,176.7 L389.5,182.9 L398.6,189.0 L407.7,195.3 L416.7,201.5 L425.8,207.9 L434.9,214.3 L444.0,220.8 L453.1,227.3 L462.1,234.0 L471.2,240.8 L480.3,247.6 L489.4,254.6 L498.4,261.7 L507.5,268.9 L516.6,276.2 L525.7,283.5 L534.8,290.9 L543.8,298.4 L552.9,305.9 L562.0,313.4 L571.1,321.0 L580.1,328.7 L589.2,336.4 L598.3,344.1 L607.4,352.0 L616.4,359.9 L625.5,367.9 L634.6,375.9 L643.7,384.0 L652.8,392.2 L661.8,400.3 L670.9,408.5 L680.0,416.6 L689.1,424.8 L698.1,432.9 L707.2,441.1 L716.3,449.2 L725.4,457.4 L734.5,465.5 L743.5,473.7 L752.6,481.9 L761.7,490.1 L770.8,498.4 L779.8,506.7 L788.9,515.0 L798.0,523.3 L807.1,531.7 L816.2,540.1 L825.2,548.6 L834.3,557.1 L843.4,565.7 L852.5,574.3 L861.5,582.8 L870.6,591.4 L879.7,599.9 L888.8,608.3 L897.8,616.7 L906.9,625.1 L916.0,633.5 L925.1,641.7 L934.2,650.0 L943.2,658.1 L952.3,666.2 L961.4,674.3 L970.5,682.2 L979.5,690.1 L988.6,697.9 L997.7,705.6 L1006.8,713.3 L1015.9,720.8 L1024.9,728.3 L1034.0,735.7 L1043.1,743.0 L1052.2,750.2 L1061.2,757.2 L1070.3,764.1 L1079.4,770.9 L1088.5,777.5 L1097.6,784.0 L1106.6,790.4 L1115.7,796.6 L1124.8,802.7 L1133.9,808.6 L1142.9,814.4 L1152.0,820.0 L1161.1,825.6 L1170.2,830.9 L1179.3,836.2 L1188.3,841.3 L1197.4,846.2 L1206.5,851.1 L1215.6,855.8 L1224.6,860.4 L1233.7,864.9 L1242.8,869.4 L1251.9,873.7 L1260.9,878.0 L1270.0,882.2 L1279.1,886.4 L1288.2,890.5 L1297.3,894.6 L1306.3,898.6 L1315.4,902.5 L1324.5,906.3 L1333.6,910.1 L1342.6,913.7 L1351.7,917.3 L1360.8,920.9 L1369.9,924.3 L1379.0,927.6 L1388.0,930.8 L1397.1,933.9 L1406.2,936.9 L1415.3,939.8 L1424.3,942.6 L1433.4,945.2 L1442.5,947.7 L1451.6,950.1 L1460.7,952.3 L1469.7,954.4 L1478.8,956.4 L1487.9,958.2 L1497.0,960.0 L1506.0,961.7 L1515.1,963.2 L1524.2,964.7 L1533.3,966.1 L1542.4,967.5 L1551.4,968.8 L1560.5,970.0 L1569.6,971.1 L1578.7,972.3 L1587.7,973.3 L1596.8,974.3 L1605.9,975.2 L1615.0,976.0 L1624.0,976.8 L1633.1,977.5 L1642.2,978.2 L1651.3,978.8 L1660.4,979.3 L1669.4,979.7 L1678.5,980.1 L1687.6,980.4 L1696.7,980.7 L1705.7,980.8 L1714.8,981.0 L1723.9,981.0 L1733.0,981.1 L1742.1,981.0 L1751.1,981.0 L1760.2,980.9 L1769.3,980.7 L1778.4,980.6 L1787.4,980.4 L1796.5,980.2 L1805.6,980.0" fill="none" stroke="#e878b3" stroke-width="14.0" stroke-linejoin="round" stroke-linecap="butt"/>
<g font-family="&quot;Liberation Sans&quot;, Arial, Helvetica, sans-serif" fill="#222222" font-size="73.5">
<text x="239.8" y="153.4" text-anchor="end">0.8</text>
<text x="239.8" y="406.9" text-anchor="end">0.7</text>
<text x="239.8" y="660.5" text-anchor="end">0.6</text>
<text x="239.8" y="914.1" text-anchor="end">0.5</text>
<text x="239.8" y="1168.4" text-anchor="end">0.4</text>
<text x="353.2" y="1311.5" text-anchor="middle">20</text>
<text x="716.1" y="1311.5" text-anchor="middle">40</text>
<text x="1079.1" y="1311.5" text-anchor="middle">60</text>
<text x="1442.0" y="1311.5" text-anchor="middle">80</text>
<text x="1805.1" y="1311.5" text-anchor="middle">100</text>
</g>
<g font-family="&quot;Liberation Sans&quot;, Arial, Helvetica, sans-serif" fill="#222222" font-size="86.6">
<text transform="translate(89.8,28.1) rotate(-90)" text-anchor="end">Crown Ratio</text>
<text x="1879.3" y="1435.7" text-anchor="end">Age</text>
<text x="321.9" y="1714.1">Forest Vegetation Zone</text>
</g>
<g font-family="&quot;Liberation Sans&quot;, Arial, Helvetica, sans-serif" fill="#222222" font-size="73.5">
<rect x="1262.6" y="1594.9" width="91.2" height="177.8" fill="#d9d9d9"/>
<line x1="1272.8" y1="1638.9" x2="1343.6" y2="1638.9" stroke="#fb7f73" stroke-width="14.2"/>
<text x="1394.1" y="1664.6">2</text>
<line x1="1272.8" y1="1727.8" x2="1343.6" y2="1727.8" stroke="#c4a233" stroke-width="14.2"/>
<text x="1394.1" y="1754.4">3</text>
<rect x="1479.8" y="1594.9" width="91.2" height="177.8" fill="#d9d9d9"/>
<line x1="1490.0" y1="1638.9" x2="1560.8" y2="1638.9" stroke="#00b74f" stroke-width="14.2"/>
<text x="1611.3" y="1664.6">4</text>
<line x1="1490.0" y1="1727.8" x2="1560.8" y2="1727.8" stroke="#00bdc4" stroke-width="14.2"/>
<text x="1611.3" y="1754.4">5</text>
<rect x="1696.7" y="1594.9" width="91.2" height="177.8" fill="#d9d9d9"/>
<line x1="1706.9" y1="1638.9" x2="1777.7" y2="1638.9" stroke="#6a9ad2" stroke-width="14.2"/>
<text x="1828.2" y="1664.6">6</text>
<line x1="1706.9" y1="1727.8" x2="1777.7" y2="1727.8" stroke="#e878b3" stroke-width="14.2"/>
<text x="1828.2" y="1754.4">7</text>
</g>
</svg>
</body>
</html>
